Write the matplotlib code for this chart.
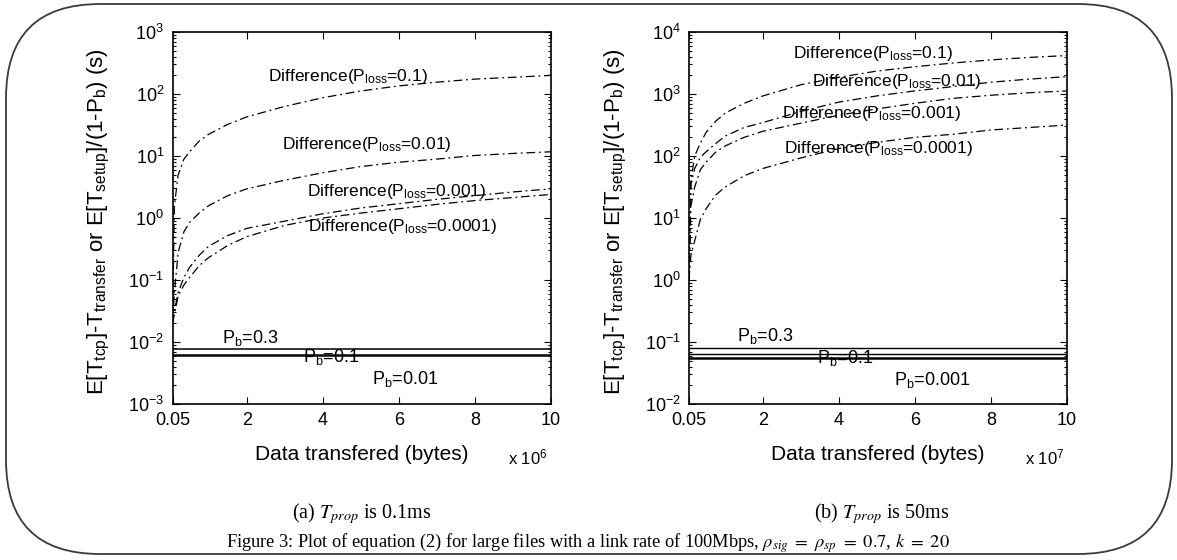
import matplotlib
matplotlib.use("Agg")
import matplotlib.pyplot as plt
from matplotlib.patches import FancyBboxPatch

plt.rcParams['font.family'] = ['Liberation Sans', 'DejaVu Sans']
plt.rcParams['mathtext.fontset'] = 'custom'
plt.rcParams['mathtext.rm'] = 'Liberation Sans'
plt.rcParams['mathtext.it'] = 'Liberation Sans'
plt.rcParams['mathtext.bf'] = 'Liberation Sans:bold'

# ---------------- data ----------------
data_x = [0.05, 0.1, 0.2, 0.35, 0.5, 0.75, 1, 1.5, 2, 3, 4, 5, 6, 7, 8, 9, 10]
ploss_labels = ["0.1", "0.01", "0.001", "0.0001"]

# (a) T_prop = 0.1 ms
diff_a_01 = [0.02, 1.6, 5.0, 8.9, 11.7, 17.4, 22.4, 32.4, 42.7, 63.1, 87.1, 112, 135, 155, 174, 186, 200]
diff_a_001 = [0.02, 0.063, 0.28, 0.60, 0.85, 1.20, 1.58, 2.29, 2.95, 4.07, 5.37, 6.76, 7.94, 8.91, 10.2, 11.0, 11.7]
diff_a_0001 = [0.02, 0.032, 0.063, 0.11, 0.16, 0.25, 0.35, 0.52, 0.68, 0.89, 1.17, 1.45, 1.70, 2.0, 2.29, 2.63, 2.95]
diff_a_00001 = [0.02, 0.028, 0.056, 0.083, 0.11, 0.17, 0.23, 0.36, 0.50, 0.76, 1.0, 1.20, 1.41, 1.66, 1.91, 2.14, 2.40]
setup_a_pb = ["0.3", "0.1", "0.01"]
setup_a_val = [0.0076, 0.0062, 0.0059]

# (b) T_prop = 50 ms
diff_b_01 = [1.0, 40, 100, 162, 240, 363, 490, 708, 933, 1413, 1862, 2344, 2754, 3162, 3548, 3890, 4169]
diff_b_001 = [1.0, 35.5, 63.1, 95.5, 117, 158, 209, 288, 347, 525, 741, 933, 1122, 1318, 1549, 1738, 1905]
diff_b_0001 = [1.0, 15.8, 31.6, 60.3, 79.4, 115, 145, 200, 251, 339, 457, 575, 708, 851, 955, 1047, 1122]
diff_b_00001 = [1.0, 2.5, 4.3, 9.5, 14.1, 23.4, 31.6, 47.9, 63.1, 93.3, 132, 166, 200, 224, 263, 288, 316]
setup_b_pb = ["0.3", "0.1", "0.001"]
setup_b_val = [0.079, 0.065, 0.056]

xtick_vals = [0.05, 2, 4, 6, 8, 10]
xtick_labels = ["0.05", "2", "4", "6", "8", "10"]

# ---------------- figure ----------------
W, H = 1177, 560
fig = plt.figure(figsize=(W / 100, H / 100), dpi=100)

def fx(px):
    return px / W

def fy(py):
    return 1 - py / H

# rounded border
border = FancyBboxPatch((fx(6), fy(554)), fx(1166), (550) / H,
                        boxstyle="round,pad=0,rounding_size=0.08",
                        transform=fig.transFigure, fill=False,
                        edgecolor="#3a3a3a", linewidth=1.3,
                        mutation_aspect=W / H)
fig.patches.append(border)

ylabel = r"E[T$_{tcp}$]-T$_{transfer}$ or E[T$_{setup}$]/(1-P$_b$) (s)"
dashdot = (0, (7, 3, 1.5, 3))

def setup_axes(left_px, right_px, ylim, mult):
    ax = fig.add_axes([fx(left_px), fy(404), fx(right_px - left_px), (404 - 32) / H])
    ax.set_yscale('log')
    ax.set_xlim(0.05, 10)
    ax.set_ylim(*ylim)
    ax.set_xticks(xtick_vals)
    ax.set_xticklabels(xtick_labels)
    ax.tick_params(which='both', direction='in', top=True, right=True,
                   labelsize=13, width=0.8)
    ax.tick_params(which='major', length=5, pad=6)
    ax.tick_params(which='minor', length=2.5)
    for s in ax.spines.values():
        s.set_linewidth(1.2)
    ax.set_ylabel(ylabel, fontsize=16)
    ax.yaxis.set_label_coords(-0.16, 0.49)
    ax.text(0.5, -0.137, "Data transfered (bytes)", transform=ax.transAxes,
            ha='center', va='center', fontsize=15)
    ax.text(0.94, -0.145, r"x 10$^{%d}$" % mult, transform=ax.transAxes,
            ha='center', va='center', fontsize=12)
    return ax

def lbl(v):
    return r"Difference(P$_{loss}$=" + v + ")"

# ---- panel (a)
axa = setup_axes(172.5, 551, (1e-3, 1e3), 6)
for ys in (diff_a_01, diff_a_001, diff_a_0001, diff_a_00001):
    axa.plot(data_x, ys, color='black', lw=0.9, linestyle=dashdot)
for v in setup_a_val:
    axa.axhline(v, color='black', lw=1.1)
axa.text(2.56, 10 ** 2.28, lbl(ploss_labels[0]), fontsize=12.5, va='center')
axa.text(2.92, 10 ** 1.18, lbl(ploss_labels[1]), fontsize=12.5, va='center')
axa.text(3.58, 10 ** 0.42, lbl(ploss_labels[2]), fontsize=12.5, va='center')
axa.text(3.62, 10 ** -0.14, lbl(ploss_labels[3]), fontsize=12.5, va='center')
axa.text(1.34, 10 ** -1.94, r"P$_b$=" + setup_a_pb[0], fontsize=13, va='center')
axa.text(3.49, 10 ** -2.24, r"P$_b$=" + setup_a_pb[1], fontsize=13, va='center')
axa.text(5.29, 10 ** -2.59, r"P$_b$=" + setup_a_pb[2], fontsize=13, va='center')

# ---- panel (b)
axb = setup_axes(689, 1067, (1e-2, 1e4), 7)
for ys in (diff_b_01, diff_b_001, diff_b_0001, diff_b_00001):
    axb.plot(data_x, ys, color='black', lw=0.9, linestyle=dashdot)
for v, w in zip(setup_b_val, (1.0, 1.0, 1.8)):
    axb.axhline(v, color='black', lw=w)
axb.text(2.8, 10 ** 3.66, lbl(ploss_labels[0]), fontsize=12.5, va='center')
axb.text(3.29, 10 ** 3.2, lbl(ploss_labels[1]), fontsize=12.5, va='center')
axb.text(2.5, 10 ** 2.68, lbl(ploss_labels[2]), fontsize=12.5, va='center')
axb.text(2.54, 10 ** 2.12, lbl(ploss_labels[3]), fontsize=12.5, va='center')
axb.text(1.31, 10 ** -0.91, r"P$_b$=" + setup_b_pb[0], fontsize=13, va='center')
axb.text(3.42, 10 ** -1.26, r"P$_b$=" + setup_b_pb[1], fontsize=13, va='center')
axb.text(5.44, 10 ** -1.61, r"P$_b$=" + setup_b_pb[2], fontsize=13, va='center')

# ---- captions
serif = ['Liberation Serif', 'DejaVu Serif']
fig.text(fx(362), fy(514), r"(a) $T_{prop}$ is 0.1ms", ha='center', va='center',
         fontsize=14.5, family=serif, math_fontfamily='stix')
fig.text(fx(882), fy(514), r"(b) $T_{prop}$ is 50ms", ha='center', va='center',
         fontsize=14.5, family=serif, math_fontfamily='stix')
fig.text(fx(588), fy(543),
         r"Figure 3: Plot of equation (2) for large files with a link rate of 100Mbps, "
         r"$\rho_{sig}\ =\ \rho_{sp}\ =\ 0.7$, $k\ =\ 20$",
         ha='center', va='center', fontsize=13.2, family=serif, math_fontfamily='stix')

fig.savefig("out.png", dpi=100)
